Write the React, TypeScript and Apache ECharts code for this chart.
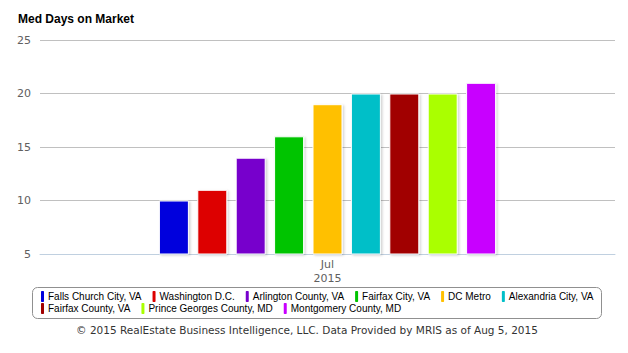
import React, { useEffect, useRef } from "react";
import * as echarts from "echarts";

const categories = ["Jul\n2015"];
const seriesNames = [
  "Falls Church City, VA",
  "Washington D.C.",
  "Arlington County, VA",
  "Fairfax City, VA",
  "DC Metro",
  "Alexandria City, VA",
  "Fairfax County, VA",
  "Prince Georges County, MD",
  "Montgomery County, MD",
];
const seriesValues = [10, 11, 14, 16, 19, 20, 20, 20, 21];
const seriesColors = [
  "#0000DD",
  "#DD0000",
  "#7700CC",
  "#00C400",
  "#FFC000",
  "#00BFC8",
  "#A10000",
  "#AAFF00",
  "#C800FF",
];
const yTicks = { min: 5, max: 25, interval: 5 };
const titleText = "Med Days on Market";
const footerText =
  "© 2015 RealEstate Business Intelligence, LLC. Data Provided by MRIS as of Aug 5, 2015";

export default function App() {
  const ref = useRef<HTMLDivElement>(null);
  useEffect(() => {
    if (!ref.current) return;
    const chart = echarts.init(ref.current, undefined, { renderer: "svg" });
    const legendCommon = {
      orient: "horizontal" as const,
      icon: "roundRect",
      itemWidth: 3,
      itemHeight: 11,
      itemGap: 11,
      width: 580,
      itemStyle: { borderWidth: 0, shadowBlur: 0, shadowOffsetX: 0, shadowOffsetY: 0 },
      textStyle: {
        fontFamily: "Liberation Sans, Arial, sans-serif",
        fontSize: 10,
        color: "#000",
        padding: [0, 0, 0, -1],
      },
      padding: 0,
    };
    chart.setOption({
      animation: false,
      title: {
        text: titleText,
        left: 18,
        top: 13,
        padding: 0,
        textStyle: {
          fontFamily: "Liberation Sans, Arial, sans-serif",
          fontSize: 12,
          fontWeight: "bold",
          color: "#000",
        },
      },
      legend: [
        { ...legendCommon, left: 41, top: 291, data: seriesNames.slice(0, 6) },
        { ...legendCommon, left: 41, top: 303, data: seriesNames.slice(6) },
      ],
      grid: { left: 40, right: 13, top: 40, bottom: 99, containLabel: false },
      xAxis: {
        type: "category",
        data: categories,
        axisLine: { lineStyle: { color: "#C0D0E0" } },
        axisTick: { show: false },
        axisLabel: {
          color: "#606060",
          fontFamily: "DejaVu Sans, Verdana, sans-serif",
          fontSize: 11,
          lineHeight: 14,
          margin: 3,
        },
      },
      yAxis: {
        type: "value",
        min: yTicks.min,
        max: yTicks.max,
        interval: yTicks.interval,
        axisLine: { show: false },
        axisTick: { show: false },
        splitLine: { lineStyle: { color: "#C0C0C0" } },
        axisLabel: {
          color: "#606060",
          fontFamily: "DejaVu Sans, Verdana, sans-serif",
          fontSize: 11,
          margin: 9,
        },
      },
      series: seriesNames.map((name, i) => ({
        name,
        type: "bar",
        data: [seriesValues[i]],
        barWidth: 30,
        barGap: "28%",
        clip: true,
        itemStyle: {
          color: seriesColors[i],
          borderColor: "#fff",
          borderWidth: 1,
          shadowColor: "rgba(0,0,0,0.18)",
          shadowBlur: 2,
          shadowOffsetX: 1.5,
          shadowOffsetY: 1,
        },
      })),
      graphic: [
        {
          type: "rect",
          shape: { x: 32.5, y: 287.5, width: 569, height: 31, r: 5 },
          style: { fill: "none", stroke: "#909090", lineWidth: 1 },
          silent: true,
        },
        {
          type: "text",
          x: 307,
          y: 330,
          style: {
            text: footerText,
            fontFamily: "DejaVu Sans, Verdana, sans-serif",
            fontSize: 10.5,
            fill: "#333",
            align: "center",
            verticalAlign: "middle",
          },
        },
      ],
    });
    return () => chart.dispose();
  }, []);
  return <div ref={ref} style={{ width: 628, height: 353, margin: -8 }} />;
}
